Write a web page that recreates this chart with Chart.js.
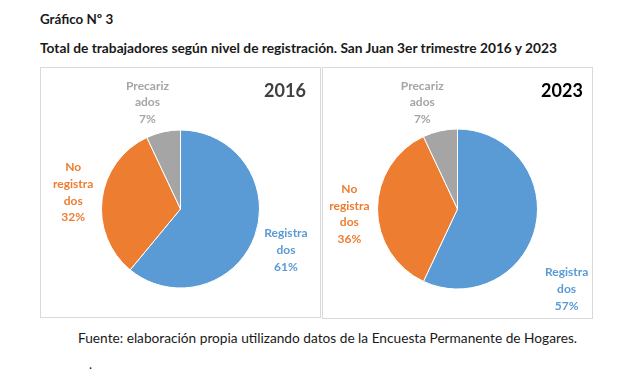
<!DOCTYPE html>
<html>
<head>
<meta charset="utf-8">
<script src="https://cdn.jsdelivr.net/npm/chart.js@4/dist/chart.umd.min.js"></script>
<style>
  body { margin: 0; background: #fff; width: 641px; height: 391px; position: relative; overflow: hidden; font-family: Lato, "Noto Sans", sans-serif; color: #1a1a1a; }
  .txt { position: absolute; white-space: nowrap; }
  .box { position: absolute; border: 1px solid #d9d9d9; box-sizing: border-box; }
  .box canvas { display: block; }
</style>
</head>
<body>
<div class="txt" style="left:40px; top:11px; font-size:13.4px; font-weight:bold;">Gráfico Nº 3</div>
<div class="txt" style="left:40px; top:39px; font-size:13.75px; font-weight:bold;">Total de trabajadores según nivel de registración. San Juan 3er trimestre 2016 y 2023</div>

<div class="box" style="left:40px; top:67px; width:281px; height:251px;"><canvas id="c2016" width="279" height="249"></canvas></div>
<div class="box" style="left:322px; top:67px; width:271px; height:252px;"><canvas id="c2023" width="269" height="250"></canvas></div>

<div class="txt" style="left:78px; top:329px; font-size:13.7px;">Fuente: elaboración propia utilizando datos de la Encuesta Permanente de Hogares.</div>
<div class="txt" style="left:89px; top:356px; font-size:13px;">.</div>

<script>
// categories and values (percent)
const categories = ['Registrados', 'No registrados', 'Precarizados'];
const labelLines = [['Registra', 'dos'], ['No', 'registra', 'dos'], ['Precariz', 'ados']];
const values2016 = [61, 32, 7];
const values2023 = [57, 36, 7];
const colors = ['#5B9BD5', '#ED7D31', '#A5A5A5'];

// draws excel-like "outside end" labels from the arc geometry
const outsideLabels = {
  id: 'outsideLabels',
  afterDatasetsDraw(chart, args, opts) {
    const ctx = chart.ctx;
    const meta = chart.getDatasetMeta(0);
    const data = chart.data.datasets[0].data;
    const lh = 16.7;
    ctx.save();
    ctx.font = 'bold 12px Lato, "Noto Sans", sans-serif';
    ctx.textAlign = 'center';
    ctx.textBaseline = 'middle';
    meta.data.forEach((arc, i) => {
      const p = arc.getProps(['x', 'y', 'startAngle', 'endAngle', 'outerRadius'], true);
      const mid = (p.startAngle + p.endAngle) / 2;
      const dx = Math.cos(mid), dy = Math.sin(mid);
      const lines = labelLines[i].concat([data[i] + '%']);
      const w = Math.max(...lines.map(l => ctx.measureText(l).width));
      const h = lines.length * lh;
      const d = p.outerRadius + 5;
      const nudge = opts.nudge[i];
      const cx = p.x + dx * (d + w / 2) + nudge[0];
      const cy = p.y + dy * (d + h / 2) + nudge[1];
      ctx.fillStyle = colors[i];
      lines.forEach((l, k) => {
        ctx.fillText(l, cx, cy - h / 2 + lh * (k + 0.5));
      });
    });
    // year title
    ctx.font = 'bold 18px Lato, "Noto Sans", sans-serif';
    ctx.fillStyle = opts.titleColor;
    ctx.fillText(opts.title, opts.titleX, 23);
    ctx.restore();
  }
};

function makePie(id, values, radius, pad, title, titleColor, titleX, nudge) {
  return new Chart(document.getElementById(id), {
    type: 'pie',
    data: {
      labels: categories,
      datasets: [{
        data: values,
        backgroundColor: colors,
        borderColor: '#ffffff',
        borderWidth: 1,
        hoverOffset: 0
      }]
    },
    options: {
      responsive: false,
      animation: false,
      radius: radius,
      layout: { padding: pad },
      plugins: {
        legend: { display: false },
        tooltip: { enabled: false },
        outsideLabels: { title, titleColor, titleX, nudge }
      }
    },
    plugins: [outsideLabels]
  });
}

makePie('c2016', values2016, 79, { left: 60, right: 60, top: 60, bottom: 27 }, '2016', '#404040', 244,
  [[6, 4], [-4, -2], [-10, 0]]);
makePie('c2023', values2023, 80, { left: 55, right: 55, top: 60, bottom: 28 }, '2023', '#000000', 239,
  [[5, 56], [-3, 5], [-12, 1]]);
</script>
</body>
</html>
